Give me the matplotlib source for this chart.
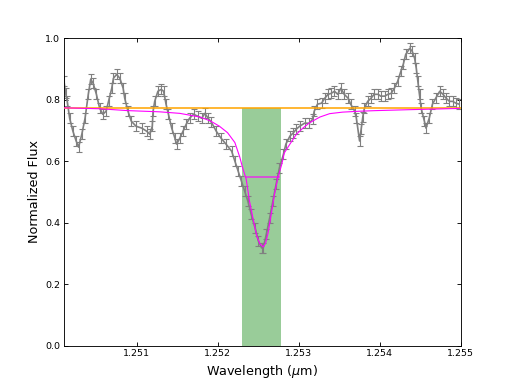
import matplotlib
matplotlib.use("Agg")
import matplotlib.pyplot as plt
import numpy as np

wave = [1.25010, 1.25012, 1.25014, 1.25017, 1.25021, 1.25025, 1.25028, 1.25032, 1.25036, 1.25040,
        1.25043, 1.25046, 1.25050, 1.25054, 1.25058, 1.25062, 1.25065, 1.25069, 1.25071, 1.25075,
        1.25079, 1.25083, 1.25085, 1.25089, 1.25093, 1.25099, 1.25106, 1.25112, 1.25116, 1.25119,
        1.25120, 1.25122, 1.25126, 1.25130, 1.25133, 1.25136, 1.25139, 1.25143, 1.25147, 1.25149,
        1.25153, 1.25157, 1.25161, 1.25165, 1.25170, 1.25175, 1.25180, 1.25184, 1.25188, 1.25192,
        1.25198, 1.25204, 1.25210, 1.25217, 1.25221, 1.25225, 1.25229, 1.25233, 1.25237, 1.25241,
        1.25246, 1.25250, 1.25254, 1.25256, 1.25260, 1.25264, 1.25268, 1.25272, 1.25276, 1.25281,
        1.25284, 1.25289, 1.25293, 1.25297, 1.25301, 1.25307, 1.25313, 1.25317, 1.25319, 1.25323,
        1.25328, 1.25332, 1.25336, 1.25340, 1.25344, 1.25348, 1.25352, 1.25356, 1.25361, 1.25364,
        1.25369, 1.25371, 1.25375, 1.25377, 1.25379, 1.25381, 1.25385, 1.25389, 1.25393, 1.25398,
        1.25401, 1.25406, 1.25410, 1.25414, 1.25418, 1.25422, 1.25426, 1.25429, 1.25432, 1.25437,
        1.25440, 1.25443, 1.25445, 1.25447, 1.25449, 1.25451, 1.25455, 1.25457, 1.25461, 1.25465,
        1.25469, 1.25474, 1.25478, 1.25482, 1.25486, 1.25490, 1.25494, 1.25498]
flux = [0.860, 0.821, 0.795, 0.740, 0.698, 0.666, 0.646, 0.688, 0.740, 0.818,
        0.867, 0.854, 0.818, 0.773, 0.753, 0.763, 0.795, 0.838, 0.870, 0.883,
        0.870, 0.838, 0.805, 0.763, 0.731, 0.714, 0.708, 0.698, 0.688, 0.714,
        0.763, 0.795, 0.828, 0.834, 0.828, 0.786, 0.753, 0.708, 0.675, 0.656,
        0.675, 0.698, 0.721, 0.740, 0.753, 0.747, 0.740, 0.756, 0.740, 0.727,
        0.698, 0.675, 0.656, 0.633, 0.601, 0.568, 0.536, 0.503, 0.471, 0.429,
        0.383, 0.341, 0.318, 0.318, 0.364, 0.416, 0.471, 0.526, 0.578, 0.623,
        0.656, 0.682, 0.692, 0.705, 0.714, 0.724, 0.724, 0.737, 0.763, 0.786,
        0.789, 0.805, 0.818, 0.821, 0.828, 0.818, 0.838, 0.818, 0.805, 0.786,
        0.763, 0.741, 0.666, 0.705, 0.745, 0.773, 0.795, 0.805, 0.818, 0.818,
        0.812, 0.812, 0.818, 0.821, 0.838, 0.860, 0.893, 0.916, 0.948, 0.968,
        0.958, 0.935, 0.903, 0.860, 0.818, 0.773, 0.731, 0.708, 0.740, 0.786,
        0.805, 0.828, 0.818, 0.805, 0.795, 0.795, 0.789, 0.786]
flux_err = 0.016

# fitted line profile
fit_wave = [1.25010, 1.25054, 1.25088, 1.25128, 1.25153, 1.25178, 1.25191, 1.25202, 1.25212, 1.25221,
            1.25227, 1.25231, 1.25235, 1.25239, 1.25244, 1.25248, 1.25252, 1.25256, 1.25259, 1.25262,
            1.25266, 1.25270, 1.25274, 1.25279, 1.25282, 1.25289, 1.25297, 1.25305, 1.25313, 1.25326,
            1.25338, 1.25354, 1.25375, 1.25396, 1.25437, 1.25498]
fit_flux = [0.774, 0.771, 0.765, 0.761, 0.756, 0.744, 0.731, 0.714, 0.693, 0.661,
            0.614, 0.575, 0.542, 0.471, 0.406, 0.357, 0.331, 0.321, 0.334, 0.367,
            0.429, 0.494, 0.545, 0.591, 0.627, 0.656, 0.688, 0.708, 0.725, 0.744,
            0.755, 0.760, 0.763, 0.765, 0.768, 0.772]

continuum = 0.775
band = [1.25230, 1.25278]
fwhm_x = [1.25235, 1.25275]
half_level = 0.549

fig = plt.figure(figsize=(6.4, 4.8), dpi=80)
ax = fig.add_axes([0.125, 0.1, 0.775, 0.8])

ax.fill_between(band, 0, continuum, color='green', alpha=0.4, linewidth=0, zorder=1)
ax.errorbar(wave, flux, yerr=flux_err, fmt='-', color='gray', ecolor='gray',
            lw=1.5, elinewidth=1, capsize=2.5, zorder=2)
ax.axhline(continuum, color='orange', lw=1.4, zorder=3)
ax.plot(fit_wave, fit_flux, color='magenta', lw=1, zorder=4)
ax.plot(fwhm_x, [half_level, half_level], color='magenta', lw=1.5, alpha=0.7, zorder=4)

ax.set_xlim(1.2501, 1.255)
ax.set_ylim(0, 1.0)
ax.set_xticks([1.251, 1.252, 1.253, 1.254, 1.255])
ax.set_xticklabels(['1.251', '1.252', '1.253', '1.254', '1.255'])
ax.set_yticks([0.0, 0.2, 0.4, 0.6, 0.8, 1.0])
ax.set_yticklabels(['0.0', '0.2', '0.4', '0.6', '0.8', '1.0'])
ax.tick_params(direction='in', top=True, right=True, labelsize=8.5, length=4)
ax.set_xlabel(r'Wavelength ($\mu$m)', fontsize=11.5)
ax.set_ylabel('Normalized Flux', fontsize=11.5)

fig.savefig('out.png', dpi=80, facecolor='white')
